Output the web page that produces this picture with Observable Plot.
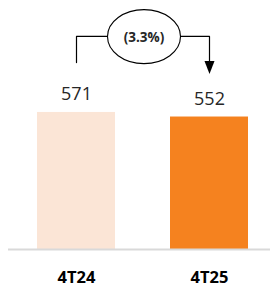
<!DOCTYPE html>
<html>
<head>
<meta charset="utf-8">
<script src="https://cdn.jsdelivr.net/npm/d3@7"></script>
<script src="https://cdn.jsdelivr.net/npm/@observablehq/plot@0.6"></script>
<style>
  html, body { margin: 0; padding: 0; background: #fff; }
  #chart svg { display: block; }
</style>
</head>
<body>
<div id="chart"></div>
<script>
// Data
const categories = ["4T24", "4T25"];
const values = [571, 552];
const barColors = ["#fbe5d6", "#f5821f"];

const data = categories.map((c, i) => ({cat: c, value: values[i], color: barColors[i]}));
const change = (values[1] - values[0]) / values[0] * 100;
const changeLabel = change < 0 ? `(${Math.abs(change).toFixed(1)}%)` : `${change.toFixed(1)}%`;

// Annotation levels (data units)
const yTop = 888, yLeftStart = 779, yArrowTip = 731, yEllipse = 885, yPct = 884;

const connector = [
  {x: categories[0], y: yLeftStart},
  {x: categories[0], y: yTop},
  {x: categories[1], y: yTop},
  {x: categories[1], y: yArrowTip + 20}
];

const arrowHead = {
  draw(ctx) {
    ctx.moveTo(-5, -13);
    ctx.lineTo(5, -13);
    ctx.lineTo(0, 0);
    ctx.closePath();
  }
};

function ellipseMark(index, scales) {
  const sx = scales.x, sy = scales.y;
  const bw = typeof sx.bandwidth === "function" ? sx.bandwidth() : 0;
  const cx = (sx(categories[0]) + sx(categories[1])) / 2 + bw / 2 + 1.5;
  const g = d3.create("svg:g");
  g.append("ellipse")
    .attr("cx", cx).attr("cy", sy(yEllipse))
    .attr("rx", 36.5).attr("ry", 27)
    .attr("fill", "#fff").attr("stroke", "#000").attr("stroke-width", 1.1);
  g.append("text")
    .attr("x", cx).attr("y", sy(yPct))
    .attr("text-anchor", "middle").attr("dy", "0.35em")
    .attr("font-family", "'Open Sans', sans-serif")
    .attr("font-weight", "bold").attr("font-size", 13.5)
    .attr("fill", "#262626")
    .text(changeLabel);
  return g.node();
}

const chart = Plot.plot({
  width: 270,
  height: 288,
  marginTop: 9,
  marginBottom: 39,
  marginLeft: 8,
  marginRight: 0,
  style: {fontFamily: "'Open Sans', sans-serif", background: "#fff"},
  x: {domain: categories, paddingInner: 0.41, paddingOuter: 0.183, align: 0.572, axis: null},
  y: {domain: [0, 1000], axis: null},
  marks: [
    Plot.barY(data, {x: "cat", y: "value", fill: "color"}),
    Plot.ruleY([0], {stroke: "#d9d9d9", strokeWidth: 2}),
    Plot.text(data, {x: "cat", y: "value", text: d => String(d.value), dy: -12, lineAnchor: "bottom", fontSize: 18, fill: "#262626"}),
    Plot.text(categories, {x: d => d, frameAnchor: "bottom", lineAnchor: "top", dy: 22, fontSize: 16.5, fontWeight: "bold", fill: "#000"}),
    Plot.line(connector, {x: "x", y: "y", stroke: "#000", strokeWidth: 1.2}),
    ellipseMark,
    Plot.dot([{x: categories[1], y: yArrowTip}], {x: "x", y: "y", symbol: arrowHead, fill: "#000", stroke: "none"})
  ]
});

document.getElementById("chart").appendChild(chart);
</script>
</body>
</html>
